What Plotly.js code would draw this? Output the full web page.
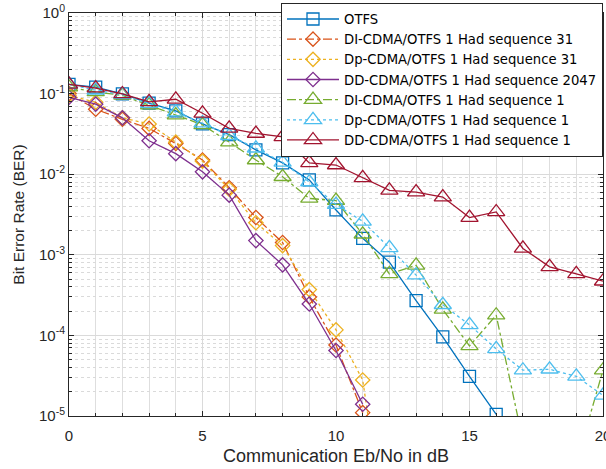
<!DOCTYPE html>
<html>
<head>
<meta charset="utf-8">
<script src="https://cdn.plot.ly/plotly-3.0.1.min.js"></script>
<style>
  html, body { margin: 0; padding: 0; background: #fff; }
  #chart { width: 606px; height: 469px; }
</style>
</head>
<body>
<div id="chart"></div>
<script>
// Eb/No in dB
const snr = [0, 1, 2, 3, 4, 5, 6, 7, 8, 9, 10, 11, 12, 13, 14, 15, 16, 17, 18, 19, 20];

// BER per scheme
const berOtfs    = [0.13, 0.12, 0.099, 0.076, 0.061, 0.042, 0.031, 0.020, 0.0138, 0.0085, 0.0036, 0.0016, 0.00081, 0.00027, 9.6e-5, 3.1e-5, 1.05e-5];
const berDi31    = [0.100, 0.064, 0.048, 0.037, 0.024, 0.015, 0.0068, 0.0029, 0.00142, 0.00030, 7.6e-5, 1.1e-5];
const berDp31    = [0.095, 0.078, 0.050, 0.042, 0.025, 0.0145, 0.0065, 0.0025, 0.0013, 0.00037, 0.000117, 2.8e-5, 1.6e-7];
const berDd2047  = [0.090, 0.074, 0.050, 0.026, 0.018, 0.0107, 0.0055, 0.0015, 0.00075, 0.000245, 6.5e-5, 1.4e-5];
const berDi1     = [0.12, 0.105, 0.095, 0.072, 0.054, 0.041, 0.025, 0.015, 0.0093, 0.0050, 0.0047, 0.0018, 0.00058, 0.00074, 0.00021, 7.4e-5, 0.000178, 4.9e-6, 2e-6, 2.6e-6, 3.7e-5];
const berDp1     = [0.13, 0.11, 0.097, 0.075, 0.059, 0.043, 0.030, 0.021, 0.014, 0.008, 0.0042, 0.0026, 0.00122, 0.00056, 0.00024, 0.000135, 6.8e-5, 3.7e-5, 3.8e-5, 3.1e-5, 1.8e-5];
const berDd1     = [0.13, 0.117, 0.099, 0.079, 0.085, 0.057, 0.037, 0.032, 0.029, 0.0138, 0.0130, 0.0090, 0.0063, 0.0060, 0.0052, 0.0029, 0.0034, 0.0012, 0.00071, 0.00058, 0.00047];

const names = [
  'OTFS',
  'DI-CDMA/OTFS 1 Had sequence 31',
  'Dp-CDMA/OTFS 1 Had sequence 31',
  'DD-CDMA/OTFS 1 Had sequence 2047',
  'DI-CDMA/OTFS 1 Had sequence 1',
  'Dp-CDMA/OTFS 1 Had sequence 1',
  'DD-CDMA/OTFS 1 Had sequence 1'
];

const xTickVals = [0, 5, 10, 15, 20];
const yTickVals = [1e-5, 1e-4, 1e-3, 1e-2, 1e-1, 1];
const yTickText = ['10<sup>-5</sup>', '10<sup>-4</sup>', '10<sup>-3</sup>', '10<sup>-2</sup>', '10<sup>-1</sup>', '10<sup>0</sup>'];

// minor log ticks: 2..9 within every decade
const yMinorVals = [];
for (let e = -5; e < 0; e++) {
  for (let m = 2; m <= 9; m++) yMinorVals.push(m * Math.pow(10, e));
}
const xMinorVals = snr;

function series(y, name, color, dash, symbol, size) {
  return {
    x: snr.slice(0, y.length),
    y: y,
    name: name,
    type: 'scatter',
    mode: 'lines+markers',
    line: { color: color, width: 1.3, dash: dash },
    marker: { symbol: symbol, size: size, color: color, line: { color: color, width: 1.3 } },
    cliponaxis: true
  };
}

const data = [
  series(berOtfs,   names[0], '#0072BD', 'solid',   'square-open',      12),
  series(berDi31,   names[1], '#D95319', 'dashdot', 'diamond-open',     11),
  series(berDp31,   names[2], '#EDB120', 'dot',     'diamond-open',     11),
  series(berDd2047, names[3], '#7E2F8E', 'solid',   'diamond-open',     11),
  series(berDi1,    names[4], '#77AC30', 'dashdot', 'triangle-up-open', 15),
  series(berDp1,    names[5], '#4DBEEE', 'dot',     'triangle-up-open', 15),
  series(berDd1,    names[6], '#A2142F', 'solid',   'triangle-up-open', 15)
];

const axisColor = '#262626';
const fam = 'Liberation Sans, Arial, sans-serif';

const layout = {
  width: 606,
  height: 469,
  margin: { l: 69, r: 3, t: 13, b: 53 },
  paper_bgcolor: '#fff',
  plot_bgcolor: '#fff',
  font: { family: fam, color: axisColor },
  showlegend: true,
  xaxis: {
    range: [0, 20],
    tickmode: 'array',
    tickvals: xTickVals,
    ticklabeloverflow: 'allow',
    ticklabelstandoff: 6,
    showline: true, linecolor: axisColor, linewidth: 1, mirror: 'ticks',
    ticks: 'inside', ticklen: 5, tickcolor: axisColor,
    showgrid: true, gridcolor: '#dadada', gridwidth: 1,
    zeroline: false,
    minor: { tickvals: xMinorVals, ticks: 'inside', ticklen: 3, tickcolor: axisColor, showgrid: true, gridcolor: '#dedede', gridwidth: 1 },
    tickfont: { size: 15, family: fam, color: axisColor },
    title: { text: 'Communication Eb/No in dB', font: { size: 18, family: fam, color: axisColor }, standoff: 6 }
  },
  yaxis: {
    type: 'log',
    range: [-5, 0],
    tickmode: 'array',
    tickvals: yTickVals,
    ticktext: yTickText,
    showline: true, linecolor: axisColor, linewidth: 1, mirror: 'ticks',
    ticks: 'inside', ticklen: 5, tickcolor: axisColor,
    showgrid: true, gridcolor: '#dadada', gridwidth: 1,
    zeroline: false,
    minor: { tickvals: yMinorVals, ticks: 'inside', ticklen: 3, tickcolor: axisColor, showgrid: true, gridcolor: '#dadada', griddash: 'dot', gridwidth: 1 },
    tickfont: { size: 15, family: fam, color: axisColor },
    title: { text: 'Bit Error Rate (BER)', font: { size: 15.5, family: fam, color: axisColor }, standoff: 10 }
  },
  legend: {
    x: 1, xanchor: 'right',
    y: 1.025, yanchor: 'top',
    bgcolor: '#fff',
    bordercolor: axisColor,
    borderwidth: 1,
    itemwidth: 52,
    tracegroupgap: 0,
    font: { size: 13.2, family: 'DejaVu Sans, sans-serif', color: '#000' }
  }
};

Plotly.newPlot('chart', data, layout, { staticPlot: true, displayModeBar: false });
</script>
</body>
</html>
